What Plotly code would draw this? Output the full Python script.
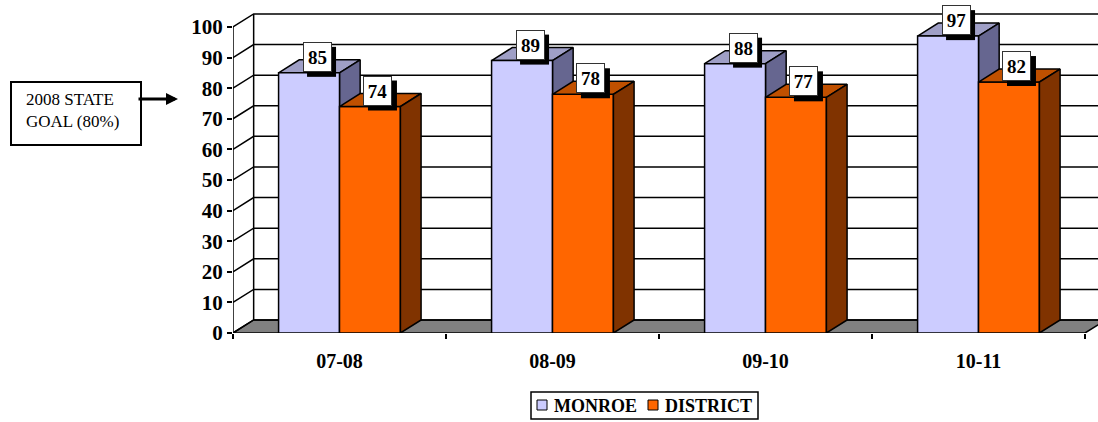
import plotly.graph_objects as go

categories = ["07-08", "08-09", "09-10", "10-11"]
monroe = [85, 89, 88, 97]
district = [74, 78, 77, 82]
y_ticks = [0, 10, 20, 30, 40, 50, 60, 70, 80, 90, 100]

SERIF = "Liberation Serif"
BAR_W = 0.286
DX = 0.097
DY = 4.25
X_RANGE = [-0.5, 3.561]
Y_RANGE = [0, 108.8]
L, T, PW, PH = 233, 0, 865, 333
LINE = dict(color="black", width=1.5)


def px(v):
    return (v - L) / PW


def py(v):
    return (T + PH - v) / PH


def faces(values, centers):
    tx, ty, sx, sy = [], [], [], []
    for c, v in zip(centers, values):
        a, b = c - BAR_W / 2, c + BAR_W / 2
        tx += [a, b, b + DX, a + DX, a, None]
        ty += [v, v, v + DY, v + DY, v, None]
        sx += [b, b + DX, b + DX, b, b, None]
        sy += [0, DY, v + DY, v, 0, None]
    return tx, ty, sx, sy


mc = [i - BAR_W / 2 for i in range(len(categories))]
dc = [i + BAR_W / 2 for i in range(len(categories))]
left, right = -0.5, len(categories) - 0.5

fig = go.Figure()


def poly(x, y, fill, name, xa="x", ya="y"):
    fig.add_trace(go.Scatter(x=x, y=y, mode="lines", fill="toself", fillcolor=fill, line=LINE,
                             name=name, showlegend=False, hoverinfo="skip", cliponaxis=False,
                             xaxis=xa, yaxis=ya))


# Floor
poly([left, right, right + DX, left + DX, left], [0, 0, DY, DY, 0], "#808080", "floor")

# Walls and gridlines
gx, gy = [], []
for t in y_ticks:
    gx += [left, left + DX, right + DX, None]
    gy += [t, t + DY, t + DY, None]
gx += [left, left, None, left + DX, left + DX, None]
gy += [0, 100, None, DY, 100 + DY, None]
fig.add_trace(go.Scatter(x=gx, y=gy, mode="lines", line=LINE, name="grid", showlegend=False,
                         hoverinfo="skip", cliponaxis=False))

# Monroe depth faces (behind the front faces)
tx, ty, sx, sy = faces(monroe, mc)
poly(tx, ty, "#9F9FC6", "MONROE top")
poly(sx, sy, "#666690", "MONROE side")

# Front faces
fig.add_trace(go.Bar(x=mc, y=monroe, width=BAR_W, name="MONROE", marker=dict(color="#CCCCFF", line=LINE),
                     showlegend=False, xaxis="x2", yaxis="y2"))
fig.add_trace(go.Bar(x=dc, y=district, width=BAR_W, name="DISTRICT", marker=dict(color="#FF6600", line=LINE),
                     showlegend=False, xaxis="x2", yaxis="y2"))

# District depth faces
tx, ty, sx, sy = faces(district, dc)
poly(tx, ty, "#C05000", "DISTRICT top", "x2", "y2")
poly(sx, sy, "#803300", "DISTRICT side", "x2", "y2")

shapes, annotations = [], []

# Value labels with drop shadow
for c, v in list(zip(mc, monroe)) + list(zip(dc, district)):
    shapes.append(dict(type="rect", xref="x2", yref="y2", xsizemode="pixel", ysizemode="pixel",
                       xanchor=c, yanchor=v, x0=-2, x1=27, y0=-4, y1=26,
                       fillcolor="black", line=dict(width=0), layer="above"))
    annotations.append(dict(x=c, y=v, xref="x2", yref="y2", text=f"<b>{v}</b>", showarrow=False,
                            xanchor="center", yanchor="bottom", xshift=8, yshift=1,
                            width=27, height=28, borderwidth=1, borderpad=0,
                            bgcolor="white", bordercolor="#333333", valign="middle",
                            font=dict(family=SERIF, size=19, color="black")))

# Goal note
shapes.append(dict(type="rect", xref="paper", yref="paper", x0=px(11), x1=px(141), y0=py(145), y1=py(82),
                   fillcolor="white", line=dict(color="black", width=2)))
annotations.append(dict(xref="paper", yref="paper", x=px(24), y=py(110), text="2008 STATE<br>GOAL (80%)",
                        showarrow=False, xanchor="left", yanchor="middle", align="left",
                        font=dict(family=SERIF, size=17, color="black")))
annotations.append(dict(xref="paper", yref="paper", x=px(178), y=py(99), text="", showarrow=True,
                        ax=-41, ay=0, arrowwidth=3, arrowhead=2, arrowsize=0.8, arrowcolor="black"))

# Legend
shapes.append(dict(type="rect", xref="paper", yref="paper", x0=px(531), x1=px(758), y0=py(419), y1=py(392),
                   fillcolor="white", line=LINE))
for name, col, x0, tx0 in [("MONROE", "#CCCCFF", 537, 552), ("DISTRICT", "#FF6600", 648, 663)]:
    shapes.append(dict(type="rect", xref="paper", yref="paper", x0=px(x0), x1=px(x0 + 10), y0=py(410), y1=py(400),
                       fillcolor=col, line=dict(color="black", width=1)))
    annotations.append(dict(xref="paper", yref="paper", x=px(tx0), y=py(405.5), text=f"<b>{name}</b>",
                            showarrow=False, xanchor="left", yanchor="middle",
                            font=dict(family=SERIF, size=18, color="black")))

fig.update_layout(
    width=1098, height=422,
    margin=dict(l=L, r=0, t=T, b=422 - T - PH, autoexpand=False),
    paper_bgcolor="white", plot_bgcolor="white",
    barmode="overlay", showlegend=False,
    font=dict(family=SERIF, color="black"),
    shapes=shapes, annotations=annotations,
    xaxis=dict(range=X_RANGE, tickmode="array", tickvals=[i - 0.5 for i in range(len(categories) + 1)],
               ticktext=[""] * (len(categories) + 1), ticks="outside", ticklen=5, tickwidth=1.5,
               tickcolor="black", showgrid=False, zeroline=False, showline=False),
    yaxis=dict(range=Y_RANGE, tickmode="array", tickvals=y_ticks, ticktext=[str(t) for t in y_ticks],
               ticks="outside", ticklen=5, tickwidth=1.5, tickcolor="black", showgrid=False, zeroline=False,
               showline=False, tickfont=dict(family=SERIF, size=21, color="black", weight=700)),
    xaxis2=dict(range=X_RANGE, overlaying="x", anchor="y2", tickmode="array",
                tickvals=list(range(len(categories))), ticktext=categories, ticks="outside", ticklen=10,
                tickcolor="rgba(0,0,0,0)", showgrid=False, zeroline=False, showline=False,
                tickfont=dict(family=SERIF, size=20, color="black", weight=700)),
    yaxis2=dict(range=Y_RANGE, overlaying="y", anchor="x2", showticklabels=False, ticks="",
                showgrid=False, zeroline=False, showline=False),
)

fig.write_html("out.html", config=dict(displayModeBar=False), post_script="document.body.style.margin='0';")
